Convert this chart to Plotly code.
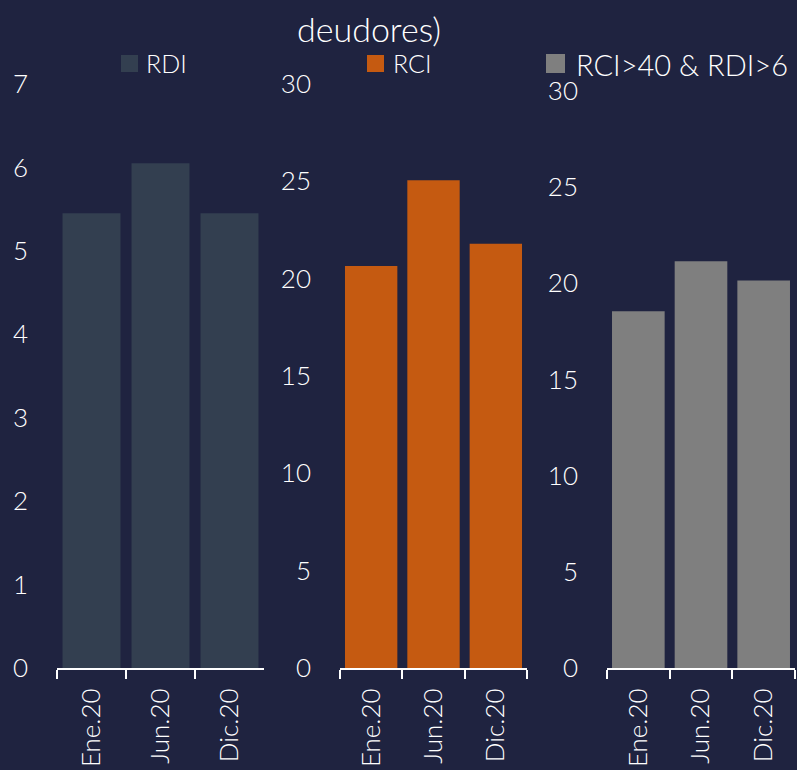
import plotly.graph_objects as go

categories = ["Ene.20", "Jun.20", "Dic.20"]
rdi_values = [5.45, 6.05, 5.45]
rci_values = [20.65, 25.05, 21.8]
both_values = [18.55, 21.15, 20.15]
rdi_ticks = [0, 1, 2, 3, 4, 5, 6, 7]
rci_ticks = [0, 5, 10, 15, 20, 25, 30]
series_names = ["RDI", "RCI", "RCI>40 & RDI>6"]
series_colors = ["#333f50", "#c55a11", "#7f7f7f"]
title_text = "deudores)"

BG = "#1f2340"
FONT = "Lato"
WT = 300
W, H = 797, 770

fig = go.Figure()
for i, vals in enumerate([rdi_values, rci_values, both_values]):
    sfx = "" if i == 0 else str(i + 1)
    fig.add_trace(go.Bar(x=categories, y=vals, name=series_names[i],
                         marker=dict(color=series_colors[i], line=dict(width=0)),
                         xaxis="x" + sfx, yaxis="y" + sfx, showlegend=False))

def tf(size):
    return dict(size=size, color="white", family=FONT, weight=WT)

def xax(domain, anchor):
    return dict(domain=domain, anchor=anchor, type="category", tickson="boundaries",
                ticks="outside", ticklen=9, tickwidth=2, tickcolor="white",
                showline=True, linecolor="white", linewidth=2, tickangle=-90,
                ticklabelstandoff=8,
                tickfont=tf(26), showgrid=False,
                zeroline=False, fixedrange=True, automargin=False)

def yax(domain, anchor, rng, ticks):
    return dict(domain=domain, anchor=anchor, range=rng, tickvals=ticks,
                showgrid=False, zeroline=False, showline=False, ticks="",
                ticklabelstandoff=28, automargin=False,
                tickfont=tf(26), fixedrange=True)

# legend swatches + labels (px positions from reference)
leg = [  # (square x0, square y0, size, text x, text y, font size)
    (121, 55, 17, 144, 63, 25),
    (367, 55, 17, 391, 63, 25),
    (546, 54, 19, 574, 64, 29),
]
shapes, annotations = [], []
for (sx, sy, sz, tx, ty, fs), name, col in zip(leg, series_names, series_colors):
    shapes.append(dict(type="rect", xref="paper", yref="paper",
                       x0=sx / W, x1=(sx + sz) / W, y0=1 - (sy + sz) / H, y1=1 - sy / H,
                       fillcolor=col, line=dict(width=0)))
    annotations.append(dict(text=name, x=tx / W, y=1 - ty / H, xref="paper", yref="paper",
                            showarrow=False, xanchor="left", yanchor="middle",
                            font=tf(fs)))
annotations.append(dict(text=title_text, x=369 / W, y=1 - 28 / H, xref="paper", yref="paper",
                        showarrow=False, font=tf(34),
                        xanchor="center", yanchor="middle"))

yb = 1 - 668 / H
fig.update_layout(
    width=W, height=H, margin=dict(l=0, r=0, t=0, b=0, autoexpand=False),
    paper_bgcolor=BG, plot_bgcolor=BG, bargap=0.16,
    font=dict(family=FONT, color="white"),
    xaxis=xax([57 / W, 264 / W], "y"),
    yaxis=yax([yb, 1 - 84 / H], "x", [0, 7], rdi_ticks),
    xaxis2=xax([340 / W, 527 / W], "y2"),
    yaxis2=yax([yb, 1 - 84 / H], "x2", [0, 30], rci_ticks),
    xaxis3=xax([607 / W, 795 / W], "y3"),
    yaxis3=yax([yb, 1 - 91 / H], "x3", [0, 30], rci_ticks),
    showlegend=False,
    shapes=shapes,
    annotations=annotations,
)

fig.write_html("out.html", config={"displayModeBar": False},
               post_script="document.body.style.margin='0';document.body.style.padding='0';"
                           "document.body.style.overflow='hidden';"
                           "document.body.style.background='" + BG + "';")
